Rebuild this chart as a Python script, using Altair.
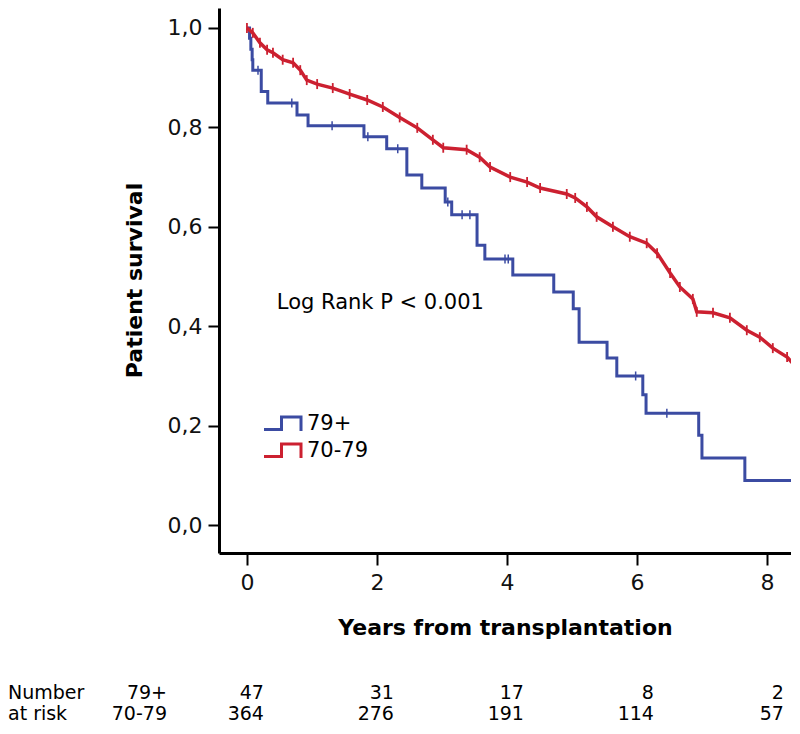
import altair as alt
import pandas as pd

# ---- data ----
# 79+ group (Kaplan-Meier steps)
old_time = [0.0, 0.04, 0.06, 0.08, 0.09, 0.22, 0.32, 0.77, 0.94, 1.80, 2.15, 2.46, 2.69, 3.05, 3.15,
            3.54, 3.66, 4.09, 4.72, 5.02, 5.11, 5.54, 5.69, 6.09, 6.14, 6.95, 7.00, 7.66, 8.45]
old_surv = [1.0, 0.979, 0.957, 0.936, 0.915, 0.872, 0.849, 0.825, 0.803, 0.781, 0.757, 0.704, 0.678, 0.650, 0.624,
            0.563, 0.535, 0.503, 0.469, 0.435, 0.368, 0.336, 0.300, 0.262, 0.225, 0.181, 0.135, 0.090, 0.090]
old_cens_time = [0.17, 0.69, 1.31, 1.86, 2.32, 3.09, 3.31, 3.43, 3.97, 4.02, 5.98, 6.46]
old_cens_surv = [0.915, 0.849, 0.803, 0.781, 0.757, 0.650, 0.624, 0.624, 0.535, 0.535, 0.300, 0.225]

# 70-79 group
young_time = [0.0, 0.09, 0.20, 0.31, 0.40, 0.55, 0.71, 0.82, 0.92, 1.08, 1.32, 1.58, 1.85, 2.09, 2.35,
              2.62, 2.86, 3.02, 3.38, 3.58, 3.74, 4.05, 4.31, 4.51, 4.92, 5.05, 5.23, 5.38, 5.63, 5.89,
              6.15, 6.31, 6.51, 6.66, 6.86, 6.92, 7.17, 7.43, 7.69, 7.89, 8.09, 8.31, 8.46]
young_surv = [1.0, 0.99, 0.97, 0.956, 0.95, 0.936, 0.93, 0.915, 0.895, 0.887, 0.879, 0.867, 0.855, 0.841, 0.82,
              0.799, 0.775, 0.759, 0.755, 0.74, 0.72, 0.70, 0.69, 0.678, 0.666, 0.658, 0.64, 0.62, 0.60, 0.58,
              0.567, 0.547, 0.507, 0.479, 0.455, 0.429, 0.427, 0.417, 0.392, 0.378, 0.356, 0.338, 0.316]

groups = ["79+", "70-79"]
colors = ["#3b4ba2", "#cc2030"]

risk_time = [0, 2, 4, 6, 8]
risk_old = [47, 31, 17, 8, 2]
risk_young = [364, 276, 191, 114, 57]

annot_text = ["Log Rank P < 0.001"]
annot_x = [0.46]
annot_y = [0.447]

# ---- tables ----
old_df = pd.DataFrame({"t": old_time, "s": old_surv, "g": groups[0]})
young_df = pd.DataFrame({"t": young_time, "s": young_surv, "g": groups[1]})
old_cens = pd.DataFrame({"t": old_cens_time, "s": old_cens_surv, "g": groups[0]})
risk_df = pd.DataFrame({"t": risk_time, "old": risk_old, "young": risk_young})
annot_df = pd.DataFrame({"t": annot_x, "s": annot_y, "label": annot_text})

FONT = "DejaVu Sans"
xscale = alt.Scale(domain=[-0.43, 8.37], nice=False, zero=False)
yscale = alt.Scale(domain=[-0.056, 1.04], nice=False, zero=False)
cscale = alt.Scale(domain=groups, range=colors)

# step-shaped legend symbol (wider than its nominal size)
step_path = "M-1.85,0.6H-0.1V-0.65H1.85V0.75"

x_enc = alt.X("t:Q", scale=xscale,
              axis=alt.Axis(values=[0, 2, 4, 6, 8], format="d", title="Years from transplantation",
                            grid=False, domainColor="black", domainWidth=3, tickColor="black",
                            tickWidth=2, tickSize=12, labelFontSize=22, labelColor="#111",
                            labelPadding=7, titleFontSize=22, titleFontWeight="bold",
                            titlePadding=24, titleColor="black", labelFont=FONT, titleFont=FONT))
y_enc = alt.Y("s:Q", scale=yscale,
              axis=alt.Axis(values=[0, 0.2, 0.4, 0.6, 0.8, 1.0],
                            labelExpr="replace(format(datum.value, '.1f'), '.', ',')",
                            title="Patient survival", grid=False, domainColor="black", domainWidth=3,
                            tickColor="black", tickWidth=2, tickSize=11, labelFontSize=22,
                            labelColor="#111", labelPadding=6, titleFontSize=22, titleFontWeight="bold",
                            titleColor="black", titleX=-85, titleY=272, titleAngle=270,
                            titleAlign="center", titleBaseline="middle", labelFont=FONT, titleFont=FONT))

legend = alt.Legend(title=None, orient="none", legendX=52, legendY=404, symbolType=step_path,
                    symbolSize=400, symbolStrokeWidth=3, symbolFillColor="transparent",
                    labelFontSize=21, labelFont=FONT, labelColor="black", labelOffset=13,
                    rowPadding=1, padding=0)

old_line = alt.Chart(old_df).mark_line(interpolate="step-after", strokeWidth=3, clip=True).encode(
    x=x_enc, y=y_enc, color=alt.Color("g:N", scale=cscale, legend=legend))
young_line = alt.Chart(young_df).mark_line(strokeWidth=3.5, clip=True).encode(
    x="t:Q", y="s:Q", color=alt.Color("g:N", scale=cscale, legend=legend))

old_ticks = alt.Chart(old_cens).mark_point(shape="M0,-1L0,1", size=81, strokeWidth=1.5, filled=False,
                                             opacity=1).encode(
    x="t:Q", y="s:Q", color=alt.Color("g:N", scale=cscale, legend=None))
young_ticks = alt.Chart(young_df).mark_point(shape="M0,-1L0,1", size=100, strokeWidth=1.8, filled=False,
                                               opacity=1, clip=True).encode(
    x="t:Q", y="s:Q", color=alt.Color("g:N", scale=cscale, legend=None))

annot = alt.Chart(annot_df).mark_text(align="left", baseline="middle", fontSize=21, font=FONT,
                                      color="black").encode(x="t:Q", y="s:Q", text="label:N")

row1_y = 691
row2_y = 712
num_old = alt.Chart(risk_df).mark_text(align="right", baseline="alphabetic", dx=17, fontSize=19,
                                       font=FONT, color="black").encode(
    x="t:Q", y=alt.value(row1_y), text="old:Q")
num_young = alt.Chart(risk_df).mark_text(align="right", baseline="alphabetic", dx=17, fontSize=19,
                                         font=FONT, color="black").encode(
    x="t:Q", y=alt.value(row2_y), text="young:Q")

lab_df1 = pd.DataFrame({"txt": ["Number"]})
lab_df2 = pd.DataFrame({"txt": ["at risk"]})
grp_df1 = pd.DataFrame({"txt": [groups[0]]})
grp_df2 = pd.DataFrame({"txt": [groups[1]]})

def left_text(df, xv, yv, align):
    return alt.Chart(df).mark_text(align=align, baseline="alphabetic", fontSize=19, font=FONT,
                                   color="black").encode(x=alt.value(xv), y=alt.value(yv), text="txt:N")

chart = alt.layer(
    old_line, young_line, old_ticks, young_ticks, annot, num_old, num_young,
    left_text(lab_df1, -211, row1_y, "left"), left_text(lab_df2, -211, row2_y, "left"),
    left_text(grp_df1, -52, row1_y, "right"), left_text(grp_df2, -52, row2_y, "right"),
).properties(
    width=572, height=545,
    background="white",
    autosize=alt.AutoSizeParams(type="none"),
    padding={"left": 211, "top": 0, "right": 0, "bottom": 172},
).configure_view(stroke=None)

chart.save("out.html", embed_options={"renderer": "svg", "actions": False})
